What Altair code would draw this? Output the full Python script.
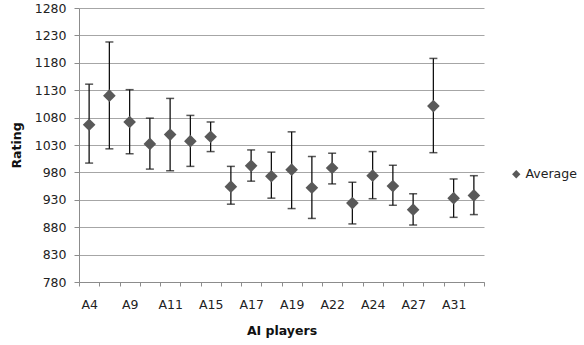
import altair as alt
import pandas as pd

players = ["A4", "A5", "A9", "A10", "A11", "A13", "A15", "A16", "A17", "A18",
           "A19", "A20", "A22", "A23", "A24", "A26", "A27", "A29", "A31", "A32"]
shown_labels = players[::2]
average = [1067, 1120, 1072, 1032, 1049, 1037, 1045, 954, 992, 973,
           985, 952, 988, 924, 974, 955, 912, 1101, 933, 938]
upper = [1141, 1218, 1131, 1079, 1115, 1084, 1072, 991, 1021, 1017,
         1054, 1009, 1015, 962, 1018, 993, 941, 1188, 968, 974]
lower = [997, 1023, 1014, 986, 983, 991, 1018, 922, 964, 933,
         914, 896, 959, 886, 932, 920, 884, 1016, 898, 903]
y_ticks = list(range(780, 1281, 50))

df = pd.DataFrame({"player": players, "avg": average, "hi": upper, "lo": lower,
                   "series": ["Average"] * len(players)})

FONT = "DejaVu Sans"
label_expr = "indexof([" + ",".join("'%s'" % s for s in shown_labels) + "], datum.value) >= 0 ? datum.value : ''"

x_axis = alt.Axis(labelAngle=0, tickBand="extent", labelExpr=label_expr,
                  labelOverlap=False,
                  domainColor="#8c8c8c", tickColor="#8c8c8c", tickSize=4,
                  labelPadding=12, labelFontSize=12.5, labelColor="#222",
                  titleFontSize=12.5, titleFontWeight="bold", titleColor="#111",
                  titlePadding=14, labelFont=FONT, titleFont=FONT, grid=False)
x_scale = alt.Scale(paddingInner=0, paddingOuter=0)
y_scale = alt.Scale(domain=[780, 1280], nice=False, zero=False)
y_axis = alt.Axis(values=y_ticks, format="d", labelOverlap=False, title="Rating",
                  domainColor="#8c8c8c", tickColor="#8c8c8c", tickSize=5,
                  gridColor="#a6a6a6", gridWidth=1, labelPadding=8,
                  labelFontSize=12.5, labelColor="#222", labelFont=FONT,
                  titleFont=FONT, titleFontSize=12.5, titleFontWeight="bold",
                  titleColor="#111", titlePadding=11)


def X():
    return alt.X("player:N", sort=players, title="AI players", scale=x_scale, axis=x_axis)


def Y(field):
    return alt.Y(field, scale=y_scale, axis=y_axis, title="Rating")


base = alt.Chart(df)

rules = base.mark_rule(color="#111", strokeWidth=1.3).encode(
    x=X(), y=Y("lo:Q"), y2="hi:Q")
caps_hi = base.mark_tick(color="#111", size=8, thickness=1.5, orient="horizontal").encode(
    x=X(), y=Y("hi:Q"))
caps_lo = base.mark_tick(color="#111", size=8, thickness=1.5, orient="horizontal").encode(
    x=X(), y=Y("lo:Q"))
points = base.mark_point(shape="diamond", filled=True, size=160, opacity=1).encode(
    x=X(),
    y=Y("avg:Q"),
    color=alt.Color("series:N", scale=alt.Scale(range=["#595959"]),
                    legend=alt.Legend(title=None, orient="none", legendX=431, legendY=160,
                                      symbolType="diamond", symbolSize=70,
                                      labelFont=FONT, labelFontSize=12.5, labelColor="#222",
                                      symbolOpacity=1, labelOffset=3)),
)

chart = alt.layer(rules, caps_hi, caps_lo, points).properties(
    width=405, height=274,
    padding={"left": 79, "top": 8, "right": 100, "bottom": 63},
    autosize=alt.AutoSizeParams(type="none"),
    background="white",
).configure_view(stroke="transparent", strokeWidth=0)

chart.save("out.html", embed_options={"renderer": "svg", "actions": False})
